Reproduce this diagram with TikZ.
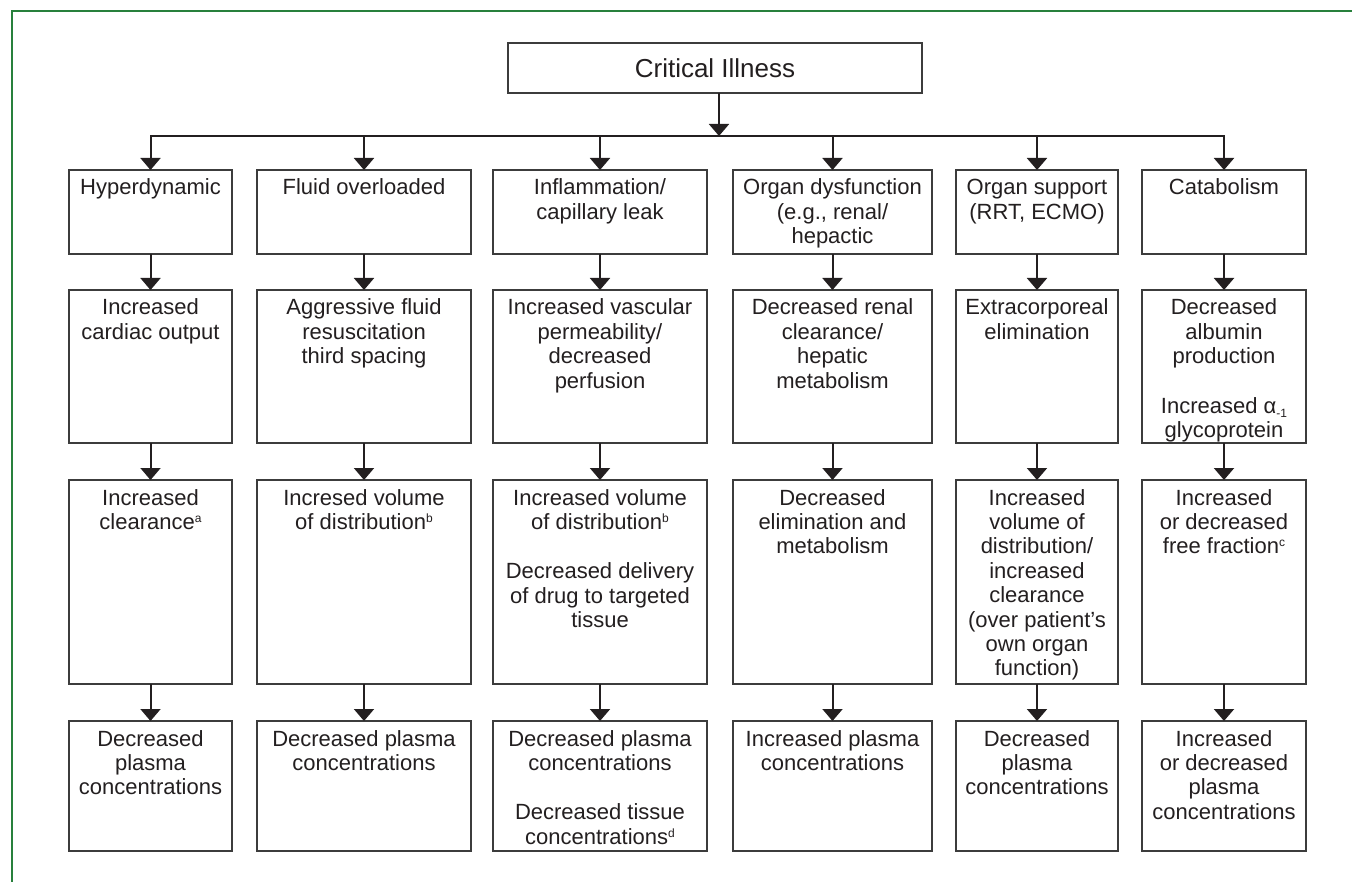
\documentclass[tikz,border=0pt]{standalone}
\usepackage{fontspec}
\setmainfont{Liberation Sans}
\usetikzlibrary{arrows.meta}
\definecolor{framegreen}{RGB}{40,128,60}
\definecolor{ink}{RGB}{35,31,32}
\definecolor{boxline}{RGB}{60,60,60}
\newcommand\cell[3]{\parbox[t][#2][t]{#1}{\centering\rule{0pt}{25pt}#3}}
\newcommand\sups[1]{\raisebox{7pt}{\fontsize{12pt}{12pt}\selectfont #1}}
\newcommand\subs[1]{\raisebox{-4pt}{\fontsize{12pt}{12pt}\selectfont #1}}
\tikzset{
  box/.style={draw=boxline, line width=1.2pt, inner sep=0pt, outer sep=0pt,
    anchor=north west, text=ink, font=\fontsize{22pt}{24.4pt}\selectfont},
  arr/.style={draw=ink, line width=2pt, line join=miter,
    -{Triangle[width=20pt,length=12pt]}},
}
\begin{document}
\begin{tikzpicture}[x=1pt,y=-1pt]
\useasboundingbox (0,0) rectangle (1352,882);
\fill[white] (0,0) rectangle (1352,882);
\draw[framegreen, line width=1.5pt] (12,890) -- (12,11) -- (1360,11);

\node[draw=boxline, line width=1.2pt, inner sep=0pt, outer sep=0pt, anchor=north west,
  minimum width=414pt, minimum height=50pt, text=ink, font=\fontsize{26pt}{30pt}\selectfont]
  (title) at (508,43) {Critical Illness};

% row 1
\node[box] (n11) at (69,170)  {\cell{163pt}{84pt}{Hyperdynamic}};
\node[box] (n12) at (257,170) {\cell{214pt}{84pt}{Fluid overloaded}};
\node[box] (n13) at (493,170) {\cell{214pt}{84pt}{Inflammation/\\capillary leak}};
\node[box] (n14) at (733,170) {\cell{199pt}{84pt}{Organ dysfunction\\(e.g., renal/\\hepactic}};
\node[box] (n15) at (956,170) {\cell{162pt}{84pt}{Organ support\\(RRT, ECMO)}};
\node[box] (n16) at (1142,170){\cell{164pt}{84pt}{Catabolism}};

% row 2
\node[box] (n21) at (69,290)  {\cell{163pt}{153pt}{Increased\\cardiac output}};
\node[box] (n22) at (257,290) {\cell{214pt}{153pt}{Aggressive fluid\\resuscitation\\third spacing}};
\node[box] (n23) at (493,290) {\cell{214pt}{153pt}{Increased vascular\\permeability/\\decreased\\perfusion}};
\node[box] (n24) at (733,290) {\cell{199pt}{153pt}{Decreased renal\\clearance/\\hepatic\\metabolism}};
\node[box] (n25) at (956,290) {\cell{162pt}{153pt}{Extracorporeal\\elimination}};
\node[box] (n26) at (1142,290){\cell{164pt}{153pt}{Decreased\\albumin\\production\\[25pt]Increased α\subs{-1}\\glycoprotein}};

% row 3
\node[box] (n31) at (69,480)  {\cell{163pt}{204pt}{Increased\\clearance\sups{a}}};
\node[box] (n32) at (257,480) {\cell{214pt}{204pt}{Incresed volume\\of distribution\sups{b}}};
\node[box] (n33) at (493,480) {\cell{214pt}{204pt}{Increased volume\\of distribution\sups{b}\\[25pt]Decreased delivery\\of drug to targeted\\tissue}};
\node[box] (n34) at (733,480) {\cell{199pt}{204pt}{Decreased\\elimination and\\metabolism}};
\node[box] (n35) at (956,480) {\cell{162pt}{204pt}{Increased\\volume of\\distribution/\\increased\\clearance\\(over patient’s\\own organ\\function)}};
\node[box] (n36) at (1142,480){\cell{164pt}{204pt}{Increased\\or decreased\\free fraction\sups{c}}};

% row 4
\node[box] (n41) at (69,721)  {\cell{163pt}{130pt}{Decreased\\plasma\\concentrations}};
\node[box] (n42) at (257,721) {\cell{214pt}{130pt}{Decreased plasma\\concentrations}};
\node[box] (n43) at (493,721) {\cell{214pt}{130pt}{Decreased plasma\\concentrations\\[25pt]Decreased tissue\\concentrations\sups{d}}};
\node[box] (n44) at (733,721) {\cell{199pt}{130pt}{Increased plasma\\concentrations}};
\node[box] (n45) at (956,721) {\cell{162pt}{130pt}{Decreased\\plasma\\concentrations}};
\node[box] (n46) at (1142,721){\cell{164pt}{130pt}{Increased\\or decreased\\plasma\\concentrations}};

% connectors
\coordinate (bus) at (719,136);
\draw[arr] (title.south -| bus) -- (bus);
\draw[arr] (bus) -- (n11.north |- bus) -- (n11.north);
\draw[arr] (bus) -- (n16.north |- bus) -- (n16.north);
\foreach \i in {2,3,4,5} { \draw[arr] (n1\i.north |- bus) -- (n1\i.north); }
\foreach \i in {1,...,6} {
  \draw[arr] (n1\i.south) -- (n2\i.north);
  \draw[arr] (n2\i.south) -- (n3\i.north);
  \draw[arr] (n3\i.south) -- (n4\i.north);
}
\end{tikzpicture}
\end{document}
